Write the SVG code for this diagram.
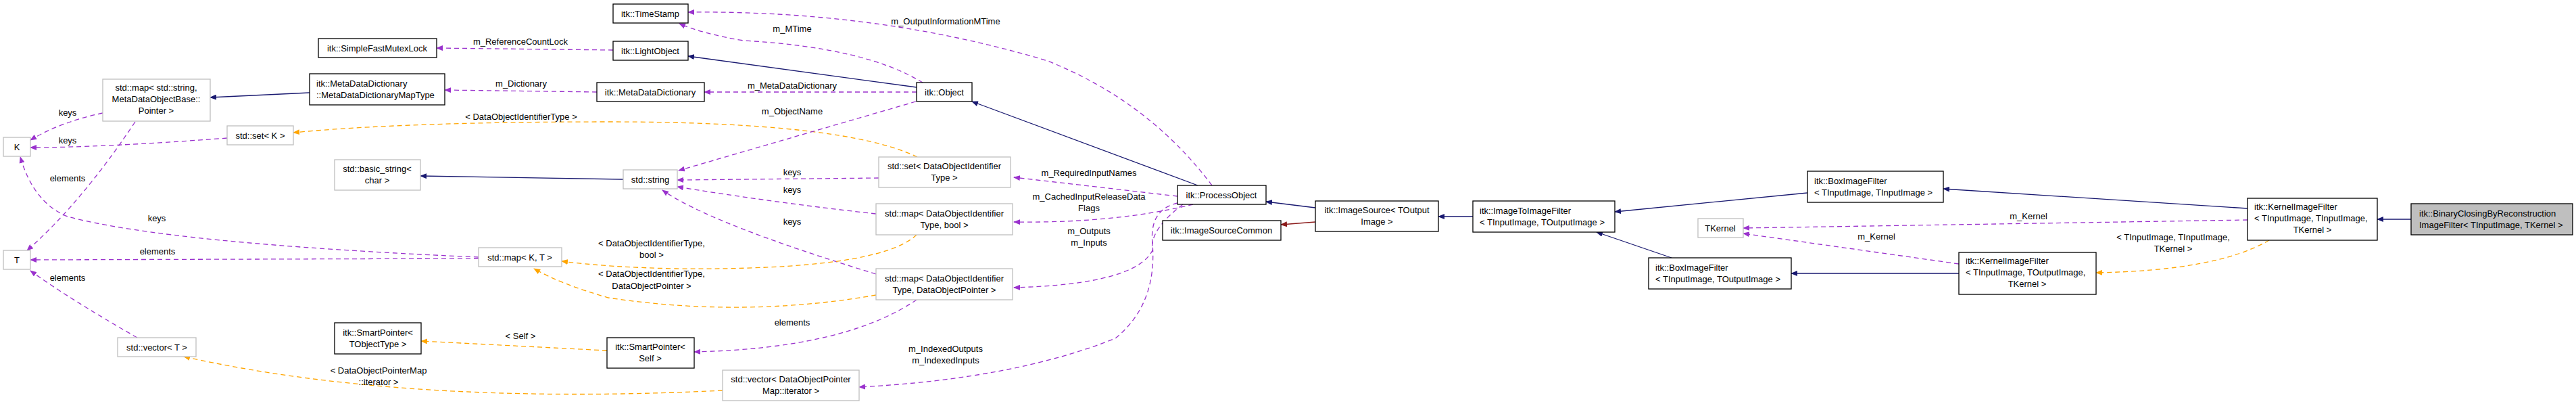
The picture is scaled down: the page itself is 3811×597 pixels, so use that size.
<svg xmlns="http://www.w3.org/2000/svg" width="3811" height="597" viewBox="0 0 3811 597">
<style>
text{font-family:"Liberation Sans",Arial,sans-serif;font-size:13px;fill:#000}
.c{text-anchor:middle}
.nb{fill:#fff;stroke:#000;stroke-width:1.3}
.ng{fill:#fff;stroke:#bfbfbf;stroke-width:1.3}
.nh{fill:#bfbfbf;stroke:#000;stroke-width:1.3}
.e{fill:none;stroke-width:1.3}
.inh{stroke:#191970;marker-end:url(#aN)}
.red{stroke:#8b1a1a;marker-end:url(#aR)}
.use{stroke:#9a32cd;stroke-dasharray:7,5;marker-end:url(#aP)}
.tpl{stroke:#ffa500;stroke-dasharray:7,5;marker-end:url(#aO)}
</style>
<defs>
<marker id="aN" markerWidth="10" markerHeight="8" refX="9" refY="4" orient="auto" markerUnits="userSpaceOnUse"><path d="M0,0L10,4L0,8z" fill="#191970"/></marker>
<marker id="aR" markerWidth="10" markerHeight="8" refX="9" refY="4" orient="auto" markerUnits="userSpaceOnUse"><path d="M0,0L10,4L0,8z" fill="#8b1a1a"/></marker>
<marker id="aP" markerWidth="10" markerHeight="8" refX="9" refY="4" orient="auto" markerUnits="userSpaceOnUse"><path d="M0,0L10,4L0,8z" fill="#9a32cd"/></marker>
<marker id="aO" markerWidth="10" markerHeight="8" refX="9" refY="4" orient="auto" markerUnits="userSpaceOnUse"><path d="M0,0L10,4L0,8z" fill="#ffa500"/></marker>
</defs>
<g id="connectors">
<path class="e use" d="M907,74 L646,71"/><text class="c" x="770" y="66">m_ReferenceCountLock</text>
<path class="e use" d="M883,136 L658,133"/><text class="c" x="771" y="128">m_Dictionary</text>
<path class="e inh" d="M458,137 L311,144"/>
<path class="e use" d="M152,167 Q90,180 45,207"/><text class="c" x="100" y="171">keys</text>
<path class="e use" d="M336,204 Q150,218 45,218"/><text class="c" x="100" y="212">keys</text>
<path class="e use" d="M200,180 Q120,300 40,370"/><text class="c" x="100" y="268">elements</text>
<path class="e use" d="M708,380 Q250,360 100,320 Q50,300 30,232"/><text class="c" x="232" y="327">keys</text>
<path class="e use" d="M708,382 L45,384"/><text class="c" x="233" y="376">elements</text>
<path class="e use" d="M203,499 Q100,440 45,400"/><text class="c" x="100" y="415">elements</text>
<path class="e tpl" d="M1357,232 Q1250,180 900,180 Q600,180 434,196"/><text class="c" x="771" y="177">&lt; DataObjectIdentifierType &gt;</text>
<path class="e inh" d="M922,265 L622,260"/>
<path class="e use" d="M1365,122 Q1280,70 1100,60 Q1040,50 1005,35"/><text class="c" x="1172" y="47">m_MTime</text>
<path class="e use" d="M1793,274 Q1700,150 1550,90 Q1300,15 1018,18"/><text class="c" x="1399" y="36">m_OutputInformationMTime</text>
<path class="e inh" d="M1356,129 L1018,83"/>
<path class="e use" d="M1356,136 L1042,136"/><text class="c" x="1172" y="131">m_MetaDataDictionary</text>
<path class="e use" d="M1355,150 L1004,252"/><text class="c" x="1172" y="169">m_ObjectName</text>
<path class="e inh" d="M1772,274 L1438,150"/>
<path class="e use" d="M1300,263 L1002,266"/><text class="c" x="1172" y="259">keys</text>
<path class="e use" d="M1296,316 Q1150,300 1002,276"/><text class="c" x="1172" y="285">keys</text>
<path class="e use" d="M1296,405 Q1050,330 980,281"/><text class="c" x="1172" y="332">keys</text>
<path class="e tpl" d="M1356,347 Q1300,400 1000,397 Q900,395 831,386"/><text class="c" x="964" y="364">&lt; DataObjectIdentifierType,</text><text class="c" x="964" y="381">bool &gt;</text>
<path class="e tpl" d="M1296,436 Q1100,470 900,440 Q830,420 790,397"/><text class="c" x="964" y="409">&lt; DataObjectIdentifierType,</text><text class="c" x="964" y="427">DataObjectPointer &gt;</text>
<path class="e tpl" d="M898,518 L623,504"/><text class="c" x="770" y="501">&lt; Self &gt;</text>
<path class="e use" d="M1356,443 Q1250,515 1027,520"/><text class="c" x="1172" y="481">elements</text>
<path class="e tpl" d="M1069,577 Q600,600 272,527"/><text class="c" x="560" y="552">&lt; DataObjectPointerMap</text><text class="c" x="560" y="569">::iterator &gt;</text>
<path class="e use" d="M1742,300 Q1700,310 1705,360 Q1712,450 1650,500 Q1500,560 1271,572"/><text class="c" x="1399" y="520">m_IndexedOutputs</text><text class="c" x="1399" y="537">m_IndexedInputs</text>
<path class="e use" d="M1742,290 L1500,262"/><text class="c" x="1611" y="260">m_RequiredInputNames</text>
<path class="e use" d="M1765,302 Q1650,330 1500,328"/><text class="c" x="1611" y="295">m_CachedInputReleaseData</text><text class="c" x="1611" y="312">Flags</text>
<path class="e use" d="M1750,302 Q1700,340 1705,370 Q1680,420 1500,425"/><text class="c" x="1611" y="346">m_Outputs</text><text class="c" x="1611" y="363">m_Inputs</text>
<path class="e inh" d="M1946,307 L1873,298"/>
<path class="e red" d="M1946,328 L1895,332"/>
<path class="e inh" d="M2179,320 L2128,320"/>
<path class="e inh" d="M2674,285 L2389,313"/>
<path class="e inh" d="M2473,381 L2362,343"/>
<path class="e inh" d="M2898,404 L2650,404"/>
<path class="e inh" d="M3325,308 L2875,279"/>
<path class="e use" d="M2898,390 L2579,345"/><text class="c" x="2776" y="354">m_Kernel</text>
<path class="e use" d="M3325,325 L2579,337"/><text class="c" x="3001" y="324">m_Kernel</text>
<path class="e tpl" d="M3357,355 Q3280,400 3101,403"/><text class="c" x="3215" y="355">&lt; TInputImage, TInputImage,</text><text class="c" x="3215" y="372">TKernel &gt;</text>
<path class="e inh" d="M3567,324 L3517,324"/>
</g>
<g id="n_mutex"><rect class="nb" x="471" y="57" width="175" height="28"/><text class="c" x="558" y="76">itk::SimpleFastMutexLock</text></g>
<g id="n_maptype"><rect class="nb" x="458" y="109" width="200" height="46"/><text x="468" y="128">itk::MetaDataDictionary</text><text x="468" y="145">::MetaDataDictionaryMapType</text></g>
<g id="n_mapstr"><rect class="ng" x="152" y="117" width="159" height="62"/><text class="c" x="231" y="134">std::map&lt; std::string,</text><text class="c" x="231" y="151">MetaDataObjectBase::</text><text class="c" x="231" y="168">Pointer &gt;</text></g>
<g id="n_K"><rect class="ng" x="5" y="203" width="40" height="28"/><text class="c" x="25" y="222">K</text></g>
<g id="n_setK"><rect class="ng" x="336" y="186" width="98" height="28"/><text class="c" x="385" y="205">std::set&lt; K &gt;</text></g>
<g id="n_bstr"><rect class="ng" x="495" y="236" width="127" height="45"/><text class="c" x="558" y="254">std::basic_string&lt;</text><text class="c" x="558" y="271">char &gt;</text></g>
<g id="n_T"><rect class="ng" x="5" y="370" width="40" height="28"/><text class="c" x="25" y="389">T</text></g>
<g id="n_vecT"><rect class="ng" x="174" y="499" width="116" height="28"/><text class="c" x="232" y="518">std::vector&lt; T &gt;</text></g>
<g id="n_spobj"><rect class="nb" x="495" y="477" width="128" height="46"/><text class="c" x="559" y="496">itk::SmartPointer&lt;</text><text class="c" x="559" y="513">TObjectType &gt;</text></g>
<g id="n_ts"><rect class="nb" x="907" y="6" width="111" height="28"/><text class="c" x="962" y="25">itk::TimeStamp</text></g>
<g id="n_lo"><rect class="nb" x="907" y="61" width="111" height="28"/><text class="c" x="962" y="80">itk::LightObject</text></g>
<g id="n_mdd"><rect class="nb" x="883" y="122" width="159" height="28"/><text class="c" x="962" y="141">itk::MetaDataDictionary</text></g>
<g id="n_obj"><rect class="nb" x="1356" y="122" width="82" height="28"/><text class="c" x="1397" y="141">itk::Object</text></g>
<g id="n_str"><rect class="ng" x="922" y="251" width="80" height="28"/><text class="c" x="962" y="270">std::string</text></g>
<g id="n_setdoit"><rect class="ng" x="1300" y="232" width="195" height="45"/><text class="c" x="1397" y="250">std::set&lt; DataObjectIdentifier</text><text class="c" x="1397" y="267">Type &gt;</text></g>
<g id="n_mapKT"><rect class="ng" x="708" y="366" width="123" height="28"/><text class="c" x="769" y="385">std::map&lt; K, T &gt;</text></g>
<g id="n_mapbool"><rect class="ng" x="1296" y="301" width="202" height="46"/><text class="c" x="1397" y="320">std::map&lt; DataObjectIdentifier</text><text class="c" x="1397" y="337">Type, bool &gt;</text></g>
<g id="n_mapdop"><rect class="ng" x="1296" y="397" width="202" height="46"/><text class="c" x="1397" y="416">std::map&lt; DataObjectIdentifier</text><text class="c" x="1397" y="433">Type, DataObjectPointer &gt;</text></g>
<g id="n_spself"><rect class="nb" x="898" y="499" width="129" height="45"/><text class="c" x="962" y="517">itk::SmartPointer&lt;</text><text class="c" x="962" y="534">Self &gt;</text></g>
<g id="n_vecdop"><rect class="ng" x="1069" y="547" width="202" height="45"/><text class="c" x="1170" y="565">std::vector&lt; DataObjectPointer</text><text class="c" x="1170" y="582">Map::iterator &gt;</text></g>
<g id="n_po"><rect class="nb" x="1742" y="274" width="131" height="28"/><text class="c" x="1807" y="293">itk::ProcessObject</text></g>
<g id="n_is"><rect class="nb" x="1946" y="297" width="182" height="45"/><text class="c" x="2037" y="315">itk::ImageSource&lt; TOutput</text><text class="c" x="2037" y="332">Image &gt;</text></g>
<g id="n_isc"><rect class="nb" x="1720" y="326" width="175" height="29"/><text class="c" x="1807" y="345">itk::ImageSourceCommon</text></g>
<g id="n_itif"><rect class="nb" x="2179" y="297" width="210" height="46"/><text x="2189" y="316">itk::ImageToImageFilter</text><text x="2189" y="333">&lt; TInputImage, TOutputImage &gt;</text></g>
<g id="n_boxii"><rect class="nb" x="2674" y="253" width="201" height="46"/><text x="2684" y="272">itk::BoxImageFilter</text><text x="2684" y="289">&lt; TInputImage, TInputImage &gt;</text></g>
<g id="n_tkernel"><rect class="ng" x="2512" y="323" width="67" height="28"/><text class="c" x="2545" y="342">TKernel</text></g>
<g id="n_boxio"><rect class="nb" x="2439" y="381" width="211" height="46"/><text x="2449" y="400">itk::BoxImageFilter</text><text x="2449" y="417">&lt; TInputImage, TOutputImage &gt;</text></g>
<g id="n_kio"><rect class="nb" x="2898" y="373" width="203" height="62"/><text x="2908" y="390">itk::KernelImageFilter</text><text x="2908" y="407">&lt; TInputImage, TOutputImage,</text><text class="c" x="2999" y="424">TKernel &gt;</text></g>
<g id="n_kii"><rect class="nb" x="3325" y="293" width="192" height="62"/><text x="3335" y="310">itk::KernelImageFilter</text><text x="3335" y="327">&lt; TInputImage, TInputImage,</text><text class="c" x="3421" y="344">TKernel &gt;</text></g>
<g id="n_bin"><rect class="nh" x="3567" y="301" width="239" height="46"/><text x="3579" y="320">itk::BinaryClosingByReconstruction</text><text x="3579" y="337">ImageFilter&lt; TInputImage, TKernel &gt;</text></g>
</svg>
